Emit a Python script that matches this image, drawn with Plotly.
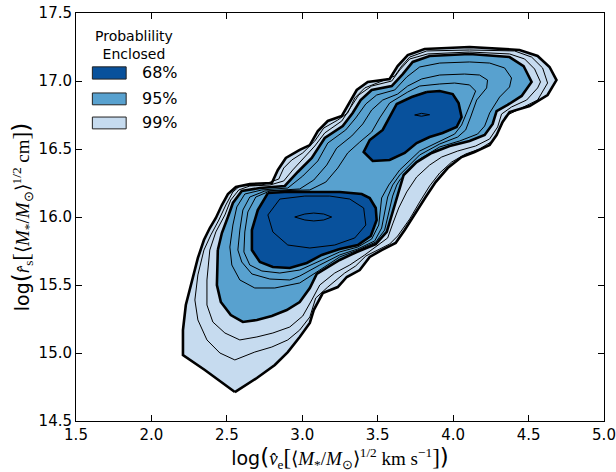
import plotly.graph_objects as go

# ---- contour levels (probability enclosed) ----
LEVELS = ["68%", "95%", "99%"]
COLORS = ["#08519c", "#58a1cf", "#c6dbef"]

# 99% region boundary
P99_X = [2.553, 2.354, 2.209, 2.209, 2.228, 2.268, 2.308, 2.348, 2.387, 2.427, 2.467, 2.507, 2.560, 2.652, 2.798,
         2.838, 2.891, 2.983, 3.050, 3.103, 3.169, 3.262, 3.315, 3.361, 3.434, 3.579, 3.632, 3.699, 3.811, 4.109,
         4.440, 4.560, 4.639, 4.685, 4.626, 4.507, 4.374, 4.328, 4.288, 4.242, 4.142, 4.056, 3.964, 3.884, 3.818,
         3.752, 3.679, 3.619, 3.526, 3.447, 3.381, 3.295, 3.235, 3.136, 3.076, 3.050, 2.983, 2.904, 2.818, 2.699]
P99_Y = [14.713, 14.875, 14.985, 15.169, 15.353, 15.522, 15.699, 15.831, 15.919, 15.993, 16.088, 16.169, 16.221, 16.243, 16.250,
         16.346, 16.434, 16.493, 16.529, 16.632, 16.706, 16.743, 16.846, 16.934, 16.993, 17.015, 17.110, 17.191, 17.235, 17.250,
         17.228, 17.184, 17.103, 17.007, 16.897, 16.816, 16.772, 16.699, 16.603, 16.529, 16.478, 16.441, 16.360, 16.257, 16.147,
         16.029, 15.904, 15.809, 15.757, 15.706, 15.610, 15.559, 15.485, 15.441, 15.316, 15.221, 15.118, 15.007, 14.912, 14.816]

# 95% region boundary
P95_X = [2.440, 2.434, 2.460, 2.526, 2.606, 2.699, 2.798, 2.897, 2.983, 3.050, 3.096, 3.248, 3.361, 3.487, 3.560,
         3.593, 3.626, 3.672, 3.758, 3.858, 3.977, 4.109, 4.209, 4.262, 4.288, 4.361, 4.454, 4.520, 4.467, 4.374,
         4.109, 3.844, 3.732, 3.666, 3.593, 3.460, 3.387, 3.334, 3.268, 3.149, 3.063, 2.970, 2.884, 2.719, 2.599,
         2.540, 2.507, 2.467]
P95_Y = [15.757, 15.500, 15.375, 15.279, 15.228, 15.243, 15.272, 15.316, 15.375, 15.478, 15.581, 15.684, 15.743, 15.801, 15.890,
         16.015, 16.147, 16.309, 16.404, 16.471, 16.522, 16.559, 16.603, 16.684, 16.779, 16.824, 16.890, 16.993, 17.110, 17.176,
         17.199, 17.184, 17.140, 17.051, 16.963, 16.934, 16.860, 16.765, 16.669, 16.581, 16.434, 16.331, 16.228, 16.213, 16.191,
         16.103, 16.000, 15.882]

# 68% region boundaries (two separate peaks)
P68A_X = [2.772, 2.705, 2.666, 2.666, 2.719, 2.805, 2.917, 3.030, 3.129, 3.248, 3.368, 3.454, 3.493, 3.487, 3.447,
          3.394, 3.248, 3.050, 2.884]
P68A_Y = [16.176, 16.051, 15.904, 15.757, 15.669, 15.632, 15.625, 15.662, 15.721, 15.765, 15.794, 15.860, 15.978, 16.066, 16.140,
          16.169, 16.184, 16.184, 16.184]
P68B_X = [3.825, 3.911, 3.997, 4.036, 4.056, 4.023, 3.930, 3.844, 3.758, 3.679, 3.579, 3.467, 3.407, 3.447, 3.533,
          3.579, 3.626, 3.725]
P68B_Y = [16.919, 16.926, 16.904, 16.838, 16.735, 16.662, 16.618, 16.588, 16.544, 16.471, 16.419, 16.412, 16.478, 16.566, 16.640,
          16.735, 16.831, 16.882]

# thin intermediate contours between 95% and 99%
U2_X = [2.348, 2.308, 2.288, 2.308, 2.368, 2.454, 2.553, 2.685, 2.798, 2.904, 2.983, 3.050, 3.089, 3.169, 3.281,
        3.354, 3.421, 3.500, 3.579, 3.632, 3.712, 3.778, 3.844, 3.911, 3.990, 4.083, 4.175, 4.262, 4.308, 4.348,
        4.440, 4.560, 4.626, 4.593, 4.520, 4.407, 4.109, 3.825, 3.712, 3.659, 3.613, 3.513, 3.414, 3.348, 3.301,
        3.235, 3.142, 3.083, 3.003, 2.930, 2.877, 2.844, 2.732, 2.586, 2.540, 2.493, 2.447, 2.394]
U2_Y = [15.757, 15.574, 15.390, 15.243, 15.096, 15.000, 14.949, 15.007, 15.044, 15.096, 15.169, 15.265, 15.404, 15.485, 15.588,
        15.640, 15.713, 15.757, 15.801, 15.860, 15.985, 16.110, 16.228, 16.324, 16.404, 16.463, 16.500, 16.559, 16.647, 16.743,
        16.794, 16.860, 16.985, 17.096, 17.176, 17.221, 17.228, 17.221, 17.176, 17.110, 17.037, 16.993, 16.949, 16.875, 16.765,
        16.713, 16.654, 16.559, 16.471, 16.419, 16.360, 16.279, 16.235, 16.228, 16.184, 16.088, 15.978, 15.868]
U1_X = [2.387, 2.368, 2.368, 2.407, 2.487, 2.586, 2.699, 2.805, 2.917, 3.003, 3.063, 3.116, 3.215, 3.315, 3.414,
        3.493, 3.566, 3.599, 3.639, 3.692, 3.758, 3.844, 3.924, 4.030, 4.149, 4.242, 4.295, 4.321, 4.387, 4.487,
        4.560, 4.579, 4.540, 4.474, 4.374, 4.109, 3.831, 3.712, 3.646, 3.593, 3.460, 3.374, 3.315, 3.262, 3.149,
        3.083, 3.010, 2.937, 2.877, 2.785, 2.652, 2.579, 2.526, 2.487, 2.427]
U1_Y = [15.757, 15.537, 15.353, 15.228, 15.147, 15.096, 15.118, 15.147, 15.191, 15.272, 15.390, 15.500, 15.588, 15.647, 15.721,
        15.787, 15.846, 15.949, 16.066, 16.184, 16.294, 16.382, 16.441, 16.485, 16.522, 16.574, 16.662, 16.757, 16.809, 16.860,
        16.949, 16.993, 17.088, 17.162, 17.199, 17.213, 17.199, 17.162, 17.081, 17.000, 16.963, 16.897, 16.801, 16.706, 16.618,
        16.522, 16.434, 16.346, 16.265, 16.235, 16.228, 16.199, 16.125, 16.015, 15.890]

# thin intermediate contours between 68% and 95%
T3_X = [2.520, 2.533, 2.586, 2.685, 2.818, 2.983, 3.116, 3.248, 3.368, 3.487, 3.546, 3.573, 3.599, 3.626, 3.646,
        3.778, 3.911, 4.043, 4.162, 4.209, 4.242, 4.308, 4.374, 4.387, 4.341, 4.242, 4.109, 3.911, 3.778, 3.692,
        3.613, 3.493, 3.421, 3.354, 3.288, 3.169, 3.103, 3.003, 2.904, 2.732, 2.619, 2.566, 2.540]
T3_Y = [15.779, 15.647, 15.537, 15.478, 15.478, 15.515, 15.610, 15.706, 15.757, 15.816, 15.904, 16.037, 16.154, 16.235, 16.272,
        16.426, 16.515, 16.559, 16.610, 16.669, 16.765, 16.882, 16.956, 17.022, 17.096, 17.132, 17.140, 17.132, 17.103, 17.029,
        16.934, 16.897, 16.831, 16.728, 16.640, 16.544, 16.412, 16.301, 16.213, 16.199, 16.169, 16.074, 15.941]
T2_X = [2.573, 2.599, 2.666, 2.785, 2.917, 2.983, 3.116, 3.248, 3.368, 3.480, 3.526, 3.546, 3.566, 3.599, 3.646,
        3.778, 3.911, 4.030, 4.083, 4.116, 4.156, 4.222, 4.228, 4.175, 4.076, 3.911, 3.791, 3.699, 3.632, 3.533,
        3.460, 3.401, 3.328, 3.228, 3.162, 3.076, 2.983, 2.752, 2.652, 2.606, 2.586]
T2_Y = [15.757, 15.669, 15.581, 15.544, 15.537, 15.566, 15.647, 15.721, 15.765, 15.824, 15.919, 16.037, 16.147, 16.235, 16.309,
        16.456, 16.537, 16.588, 16.640, 16.735, 16.860, 16.949, 17.007, 17.044, 17.051, 17.044, 17.015, 16.963, 16.904, 16.860,
        16.787, 16.684, 16.596, 16.507, 16.382, 16.272, 16.206, 16.191, 16.147, 16.051, 15.904]
T1_X = [2.613, 2.652, 2.732, 2.851, 2.983, 3.116, 3.248, 3.368, 3.460, 3.507, 3.520, 3.526, 3.573, 3.646, 3.778,
        3.911, 4.010, 4.056, 4.089, 4.123, 4.149, 4.109, 4.010, 3.911, 3.778, 3.699, 3.646, 3.579, 3.513, 3.460,
        3.381, 3.301, 3.235, 3.156, 3.050, 2.785, 2.692, 2.639, 2.619]
T1_Y = [15.743, 15.647, 15.603, 15.588, 15.610, 15.676, 15.743, 15.779, 15.838, 15.941, 16.051, 16.140, 16.235, 16.346, 16.485,
        16.559, 16.610, 16.676, 16.765, 16.860, 16.926, 16.971, 16.985, 16.978, 16.963, 16.919, 16.882, 16.838, 16.728, 16.625,
        16.551, 16.471, 16.360, 16.257, 16.199, 16.191, 16.147, 16.037, 15.890]

# thin contours inside the 68% regions
R1_X = [2.851, 2.772, 2.805, 2.904, 3.050, 3.215, 3.348, 3.421, 3.407, 3.315, 3.182, 3.017]
R1_Y = [16.132, 16.015, 15.890, 15.794, 15.772, 15.794, 15.846, 15.941, 16.066, 16.132, 16.154, 16.154]
L1_X = [2.950, 3.017, 3.076, 3.142, 3.195, 3.142, 3.076, 3.017]
L1_Y = [16.000, 16.022, 16.029, 16.022, 16.000, 15.978, 15.971, 15.978]
L2_X = [3.745, 3.790, 3.844, 3.790]
L2_Y = [16.750, 16.762, 16.752, 16.741]

X_TICKS = [1.5, 2.0, 2.5, 3.0, 3.5, 4.0, 4.5, 5.0]
Y_TICKS = [14.5, 15.0, 15.5, 16.0, 16.5, 17.0, 17.5]

THICK = 2.6
THIN = 1.0


def closed(xs, ys):
    return list(xs) + [xs[0]], list(ys) + [ys[0]]


fig = go.Figure()

# filled regions
for xs, ys, col in [(P99_X, P99_Y, COLORS[2]), (P95_X, P95_Y, COLORS[1]),
                    (P68A_X, P68A_Y, COLORS[0]), (P68B_X, P68B_Y, COLORS[0])]:
    cx, cy = closed(xs, ys)
    fig.add_trace(go.Scatter(x=cx, y=cy, mode="lines", fill="toself", fillcolor=col,
                             line=dict(width=0, color=col), hoverinfo="skip", showlegend=False))

# thin contour lines
for xs, ys in [(U2_X, U2_Y), (U1_X, U1_Y), (T3_X, T3_Y), (T2_X, T2_Y), (T1_X, T1_Y),
               (R1_X, R1_Y), (L1_X, L1_Y), (L2_X, L2_Y)]:
    cx, cy = closed(xs, ys)
    fig.add_trace(go.Scatter(x=cx, y=cy, mode="lines", line=dict(color="black", width=THIN),
                             hoverinfo="skip", showlegend=False))

# thick contour lines at the labelled levels
for xs, ys in [(P99_X, P99_Y), (P95_X, P95_Y), (P68A_X, P68A_Y), (P68B_X, P68B_Y)]:
    cx, cy = closed(xs, ys)
    fig.add_trace(go.Scatter(x=cx, y=cy, mode="lines", line=dict(color="black", width=THICK),
                             hoverinfo="skip", showlegend=False))

# manual legend (matplotlib-like)
shapes = []
annotations = []
patch_y = [(0.838, 0.868), (0.775, 0.804), (0.716, 0.745)]
label_y = [0.853, 0.790, 0.731]
for i, lev in enumerate(LEVELS):
    y0, y1 = patch_y[i]
    shapes.append(dict(type="rect", xref="paper", yref="paper", x0=0.031, x1=0.095, y0=y0, y1=y1,
                       fillcolor=COLORS[i], line=dict(color="#222222", width=1)))
    annotations.append(dict(xref="paper", yref="paper", x=0.121, y=label_y[i], text=lev, showarrow=False,
                            xanchor="left", yanchor="middle",
                            font=dict(family="DejaVu Sans", size=16, color="black")))
annotations.append(dict(xref="paper", yref="paper", x=0.110, y=0.922, text="Probablility<br>Enclosed",
                        showarrow=False, xanchor="center", yanchor="middle", align="center",
                        font=dict(family="DejaVu Sans", size=14, color="black")))

SERIF = "font-family:'Liberation Serif'"
BIG = "font-size:23px"
y_title = ("log<span style=\"" + BIG + "\">(</span><span style=\"" + SERIF + "\"><i>r&#770;</i><sub>s</sub>"
           "<span style=\"" + BIG + "\">[</span>⟨<i>M</i><sub>*</sub>/<i>M</i>"
           "<sub>⊙</sub>⟩<sup>1/2</sup> cm<span style=\"" + BIG + "\">]</span></span>"
           "<span style=\"" + BIG + "\">)</span>")
x_title = ("log<span style=\"" + BIG + "\">(</span><span style=\"" + SERIF + "\"><i>v&#770;</i><sub>e</sub>"
           "<span style=\"" + BIG + "\">[</span>⟨<i>M</i><sub>*</sub>/<i>M</i>"
           "<sub>⊙</sub>⟩<sup>1/2</sup> km s<sup>−1</sup><span style=\"" + BIG + "\">]</span></span>"
           "<span style=\"" + BIG + "\">)</span>")

axis_common = dict(showgrid=False, zeroline=False, showline=True, linecolor="black", linewidth=1,
                   mirror="ticks", ticks="inside", ticklen=6, tickwidth=1, tickcolor="black",
                   automargin=False,
                   tickfont=dict(family="DejaVu Sans", size=15, color="black"), tickformat=".1f")

fig.update_layout(
    width=616, height=472,
    margin=dict(l=76, r=12, t=13, b=51),
    paper_bgcolor="white", plot_bgcolor="white",
    showlegend=False,
    shapes=shapes, annotations=annotations,
    xaxis=dict(range=[1.5, 5.0], tickvals=X_TICKS, title=dict(text=x_title, standoff=3,
               font=dict(family="DejaVu Sans", size=19, color="black")), **axis_common),
    yaxis=dict(range=[14.5, 17.5], tickvals=Y_TICKS, title=dict(text=y_title, standoff=3,
               font=dict(family="DejaVu Sans", size=19, color="black")), **axis_common),
)

fig.write_html("out.html")
